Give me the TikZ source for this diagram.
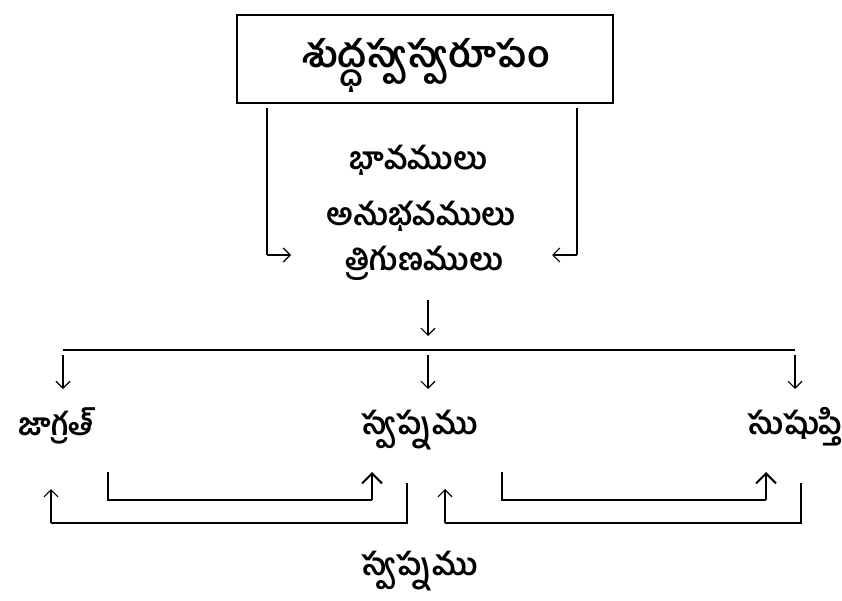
\documentclass[tikz,border=0pt]{standalone}
\usepackage{fontspec}
\newfontfamily\telugu[Script=Telugu]{Hind Guntur}
\usetikzlibrary{arrows.meta}

\begin{document}
\begin{tikzpicture}[x=1pt,y=-1pt,
    lbl/.style={font=\telugu\bfseries\fontsize{31}{34}\selectfont,inner sep=0pt,anchor=base},
    title/.style={draw,line width=2pt,minimum width=376pt,minimum height=88pt},
    bar/.style={line width=2pt},
    thinarrow/.style={line width=1.2pt,-{Straight Barb[length=7pt,width=14pt]}},
    bigarrow/.style={line width=1.2pt,-{Straight Barb[length=10pt,width=20pt,line width=2pt]}}]
    \useasboundingbox (0,0) rectangle (842,601);
    % top box and its three lines of text
    \node[title] (self) at (425,59) {};
    \node[lbl,font=\telugu\bfseries\fontsize{37}{40}\selectfont] (selfname) at (426,68) {శుద్ధస్వస్వరూపం};
    \node[lbl] (bhava) at (418,170) {భావములు};
    \node[lbl] (anubhava) at (421,226) {అనుభవములు};
    \node[lbl] (guna) at (424,270) {త్రిగుణములు};
    % the three states
    \node[lbl] (jagrat) at (56,435) {జాగ్రత్};
    \node[lbl] (svapna) at (420,434) {స్వప్నము};
    \node[lbl] (sushupti) at (795,434) {సుషుప్తి};
    \node[lbl] (svapnab) at (420,575) {స్వప్నము};
    % side lines from the box
    \coordinate (sl) at (267,108);
    \coordinate (sr) at (577,108);
    \coordinate (cl) at (267,255);
    \coordinate (cr) at (577,255);
    \draw[bar] (sl) -- (cl);
    \draw[bar] (sr) -- (cr);
    \draw[thinarrow] (cl) -- (291,255);
    \draw[thinarrow] (cr) -- (552,255);
    % split into three
    \coordinate (split) at (428,336);
    \draw[thinarrow] (428,300) -- (split);
    \draw[bar] (63,350) -- (795,350);
    \foreach \x/\n in {63/jagrat,428/svapna,795/sushupti}
        \draw[thinarrow] (\x,355) -- (\x,389);
    % returns below
    \draw[bar] (108,472) -- (108,500) -- (372,500);
    \draw[bigarrow] (372,500) -- (372,472);
    \draw[bar] (407,483) -- (407,523) -- (51,523);
    \draw[thinarrow] (51,523) -- (51,489);
    \draw[bar] (502,472) -- (502,500) -- (766,500);
    \draw[bigarrow] (766,500) -- (766,472);
    \draw[bar] (801,483) -- (801,523) -- (445,523);
    \draw[thinarrow] (445,523) -- (445,489);
\end{tikzpicture}
\end{document}
